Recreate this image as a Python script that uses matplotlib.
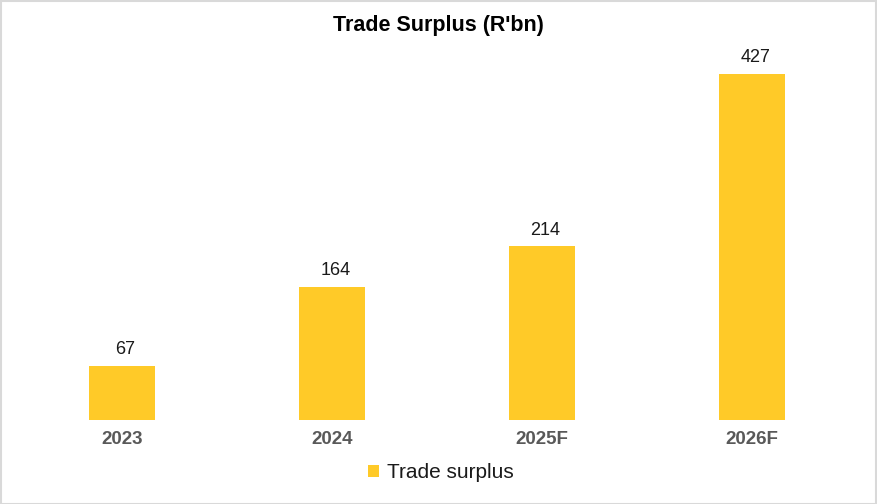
import matplotlib.pyplot as plt
from matplotlib.patches import Rectangle

plt.rcParams['font.family'] = ['Liberation Sans', 'DejaVu Sans']

years = ['2023', '2024', '2025F', '2026F']
surplus = [67, 164, 214, 427]

fig = plt.figure(figsize=(8.77, 5.04), dpi=100)
ax = fig.add_axes([17 / 877, 84 / 504, 840 / 877, 365 / 504])

x = range(len(years))
bars = ax.bar(x, surplus, width=0.314, color='#FFCA28', label='Trade surplus', zorder=2)
for b, v in zip(bars, surplus):
    ax.annotate(str(v), (b.get_x() + b.get_width() / 2, v), xytext=(2.6, 5.5),
                textcoords='offset points', ha='center', va='bottom',
                fontsize=13, color='#1a1a1a')

ax.set_xlim(-0.5, 3.5)
ax.set_ylim(0, 450)
ax.set_xticks(list(x))
ax.set_xticklabels(years, fontsize=13.5, fontweight='bold', color='#595959')
ax.tick_params(axis='x', length=0, pad=8)
ax.set_yticks([])
for s in ax.spines.values():
    s.set_visible(False)

fig.text(0.5, 1 - 26 / 504, "Trade Surplus (R'bn)", ha='center', va='center',
         fontsize=15.5, fontweight='bold', color='black')

fig.legend(handles=[bars], labels=['Trade surplus'], loc='center',
           bbox_to_anchor=(441 / 877, 1 - 473 / 504), frameon=False,
           fontsize=15, handlelength=0.5, handleheight=0.5, handletextpad=0.4,
           labelcolor='#1a1a1a')

fig.patches.append(Rectangle((0.5 / 877, 0.5 / 504), 1 - 1.5 / 877, 1 - 1.5 / 504,
                             transform=fig.transFigure, fill=False,
                             edgecolor='#d9d9d9', linewidth=1.5))

fig.savefig('out.png', dpi=100)
